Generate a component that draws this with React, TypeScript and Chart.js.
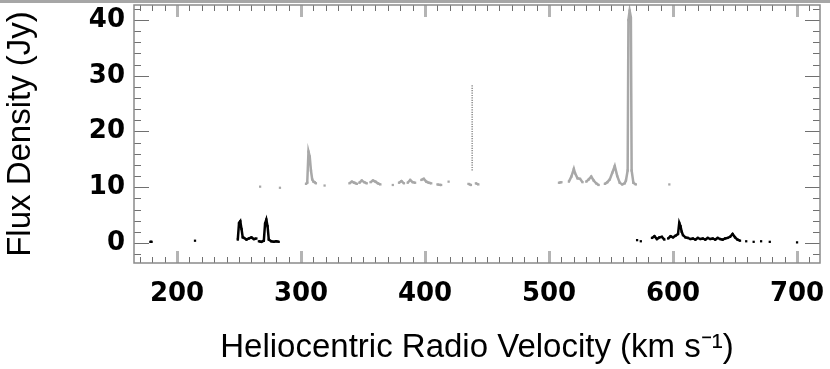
import React, { useEffect, useRef } from "react";
import { Chart, registerables } from "chart.js";

Chart.register(...registerables);

// ---- data (velocity in km/s, flux density in Jy) ----
const xTickValues = [200, 300, 400, 500, 600, 700];
const yTickValues = [0, 10, 20, 30, 40];
const xMin = 165.3;
const xMax = 718.5;
const yMin = -3.6;
const yMax = 42.7;

// gray spectrum (offset by +10 Jy); null marks a gap
const grayVelocity = [
  267, null, 283, null,
  304, 305, 306, 307, 308, 309, 310, 311, 312, null,
  319, null,
  339, 341, 343, 345, null, 347, 349, 351, 353, null, 356, 358, 360, 362, 364, null,
  374, null,
  379, 381, 383, null, 386, 388, 390, 392, null,
  397, 399, 401, 403, 405, null,
  410, 413, null,
  419, null,
  435, 437, null, 441, 443, null,
  508, 510, null,
  516, 518, 520, 521, 523, 525, 527, null,
  530, 532, 534, 536, 538, 540, null,
  545, 547, 549, 551, 553, 555, 557, 559, 561, 562, 563.4, 564, 565, 566, 566.6, 568, 570, null,
  597,
];
const grayFlux = [
  10.1, null, 9.9, null,
  10.6, 10.8, 16.4, 15.5, 13.0, 11.4, 11.0, 10.9, 10.7, null,
  10.3, null,
  10.7, 11.0, 10.8, 10.6, null, 10.8, 11.2, 10.9, 10.7, null, 10.9, 11.2, 11.0, 10.7, 10.5, null,
  10.4, null,
  10.8, 11.1, 10.7, null, 10.8, 11.3, 10.9, 10.8, null,
  11.3, 11.5, 11.0, 10.8, 10.7, null,
  10.5, 10.4, null,
  11.0, null,
  10.6, 10.4, null, 10.7, 10.5, null,
  10.8, 10.9, null,
  11.0, 11.9, 13.3, 12.5, 11.6, 11.5, 10.9, null,
  11.0, 11.4, 11.9, 11.2, 10.7, 10.4, null,
  10.6, 10.9, 11.4, 12.6, 13.8, 12.0, 10.8, 10.5, 10.7, 11.2, 13.0, 40.0, 41.7, 40.5, 13.0, 10.8, 10.5, null,
  10.5,
];
// dotted vertical feature in the gray spectrum
const grayDottedVelocity = [438, 438];
const grayDottedFlux = [13.0, 28.5];

// black spectrum
const blackVelocity = [
  178.5, 179.5, null,
  214.5, null,
  249, 250, 251, 252, 253, 254, 256, 258, 260, 262, 264, null,
  266, 268, 270, 271, 272, 273, 274, 276, 278, 280, 282, null,
  571, null, 574, null,
  583, 585, 587, 589, 591, 593, null,
  596, 598, 600, 602, 604, 605, 606, 607, 608, 610, 612, 614, 616, 618, 620, 622, 624, 626, 628,
  630, 632, 634, 636, 638, 640, 642, 644, 646, 648, 650, 652, 654, null,
  659, null, 665, null, 671, null, 678, null, 700,
];
const blackFlux = [
  0.2, 0.2, null,
  0.4, null,
  0.6, 3.6, 3.9, 2.5, 1.0, 0.9, 0.6, 0.8, 1.0, 0.7, 0.8, null,
  0.3, 0.2, 0.4, 3.5, 4.2, 3.0, 0.6, 0.3, 0.2, 0.3, 0.2, null,
  0.5, null, 0.3, null,
  0.9, 1.2, 0.7, 1.0, 1.1, 0.6, null,
  0.8, 1.2, 1.0, 1.3, 1.6, 3.6, 3.0, 2.0, 1.4, 1.0, 0.9, 0.7, 0.8, 0.6, 0.9, 0.7, 0.8, 0.6, 0.9,
  0.7, 0.8, 0.6, 0.9, 0.7, 0.6, 0.8, 0.9, 1.1, 1.6, 1.0, 0.6, 0.4, null,
  0.3, null, 0.2, null, 0.3, null, 0.2, null, 0.1,
];

const TITLE_FONT = "'Liberation Sans', Arial, Helvetica, sans-serif";
const TICK_FONT = "'DejaVu Sans', 'Liberation Sans', Arial, sans-serif";

function toPoints(xs: (number | null)[], ys: (number | null)[]) {
  return xs.map((x, i) => {
    if (x === null || ys[i] === null) {
      const prev = (xs[i - 1] as number) ?? 0;
      return { x: prev + 0.5, y: null as any };
    }
    return { x, y: ys[i] as number };
  });
}

const framePlugin = {
  id: "idlFrame",
  afterDatasetsDraw(chart: any) {
    const { ctx, chartArea: a, scales } = chart;
    const xs = scales.x;
    const ys = scales.y;
    ctx.save();
    // x ticks (top and bottom, inward)
    for (let v = 170; v <= 710; v += 10) {
      const px = Math.round(xs.getPixelForValue(v)) + 0.5;
      const major = v % 100 === 0;
      ctx.beginPath();
      ctx.strokeStyle = major ? "#b4b4b4" : "#707070";
      ctx.lineWidth = major ? 3 : 1;
      const len = major ? 12 : 6;
      ctx.moveTo(px, a.bottom);
      ctx.lineTo(px, a.bottom - len);
      ctx.moveTo(px, a.top);
      ctx.lineTo(px, a.top + len);
      ctx.stroke();
    }
    // y ticks (left and right, inward)
    for (let v = -2; v <= 42; v += 2) {
      const py = Math.round(ys.getPixelForValue(v)) + 0.5;
      const major = v % 10 === 0;
      ctx.beginPath();
      ctx.strokeStyle = "#707070";
      ctx.lineWidth = 1;
      const len = major ? 15 : 7;
      ctx.moveTo(a.left, py);
      ctx.lineTo(a.left + len, py);
      ctx.moveTo(a.right, py);
      ctx.lineTo(a.right - len, py);
      ctx.stroke();
    }
    // frame
    ctx.strokeStyle = "#8a8a8a";
    ctx.lineWidth = 1.5;
    ctx.strokeRect(a.left, a.top, a.right - a.left, a.bottom - a.top);
    // top gray strip of the page
    ctx.fillStyle = "#a6a6a6";
    ctx.fillRect(0, 0, chart.width, 3);
    ctx.restore();
  },
};

export default function App() {
  const ref = useRef<HTMLCanvasElement | null>(null);

  useEffect(() => {
    document.body.style.margin = "0";
    const canvas = ref.current;
    if (!canvas) return;
    const chart = new Chart(canvas, {
      type: "line",
      data: {
        datasets: [
          {
            label: "gray",
            data: toPoints(grayVelocity, grayFlux),
            borderColor: "#a8a8a8",
            backgroundColor: "#a8a8a8",
            borderWidth: 2.5,
            pointRadius: 1.6,
            pointStyle: "rect",
            pointBorderWidth: 0,
            spanGaps: false,
            tension: 0,
          },
          {
            label: "gray dotted",
            data: toPoints(grayDottedVelocity, grayDottedFlux),
            borderColor: "#8c8c8c",
            borderWidth: 1.5,
            borderDash: [1.2, 1.2],
            pointRadius: 0,
            tension: 0,
          },
          {
            label: "black",
            data: toPoints(blackVelocity, blackFlux),
            borderColor: "#000000",
            backgroundColor: "#000000",
            borderWidth: 2.5,
            pointRadius: 1.6,
            pointStyle: "rect",
            pointBorderWidth: 0,
            spanGaps: false,
            tension: 0,
          },
        ],
      },
      options: {
        animation: false,
        responsive: false,
        maintainAspectRatio: false,
        layout: { padding: { top: 5, right: 10, bottom: 0, left: 0 } },
        plugins: { legend: { display: false }, tooltip: { enabled: false } },
        scales: {
          x: {
            type: "linear",
            min: xMin,
            max: xMax,
            afterBuildTicks: (s: any) => {
              s.ticks = xTickValues.map((v) => ({ value: v }));
            },
            afterFit: (s: any) => {
              s.height = 106;
              s.paddingLeft = 0;
              s.paddingRight = 0;
            },
            grid: { display: false, drawTicks: false },
            border: { display: false },
            ticks: {
              padding: 16,
              color: "#000",
              maxRotation: 0,
              autoSkip: false,
              font: { family: TICK_FONT, size: 26, weight: "bold" },
            },
            title: {
              display: true,
              text: "Heliocentric Radio Velocity (km s\u207B\u00B9)",
              color: "#000",
              font: { family: TITLE_FONT, size: 33 },
              padding: { top: 0, bottom: 1 },
            },
          },
          y: {
            type: "linear",
            min: yMin,
            max: yMax,
            afterBuildTicks: (s: any) => {
              s.ticks = yTickValues.map((v) => ({ value: v }));
            },
            afterFit: (s: any) => {
              s.width = 134;
              s.paddingTop = 0;
              s.paddingBottom = 0;
            },
            grid: { display: false, drawTicks: false },
            border: { display: false },
            ticks: {
              padding: 9,
              color: "#000",
              autoSkip: false,
              font: { family: TICK_FONT, size: 26, weight: "bold" },
            },
            title: {
              display: true,
              text: "Flux Density (Jy)",
              color: "#000",
              font: { family: TITLE_FONT, size: 33 },
              padding: { top: 1, bottom: 0 },
            },
          },
        },
      },
      plugins: [framePlugin],
    });
    return () => chart.destroy();
  }, []);

  return (
    <div style={{ position: "relative", width: 830, height: 369, background: "#fff" }}>
      <canvas ref={ref} width={830} height={369} style={{ display: "block" }} />
    </div>
  );
}
